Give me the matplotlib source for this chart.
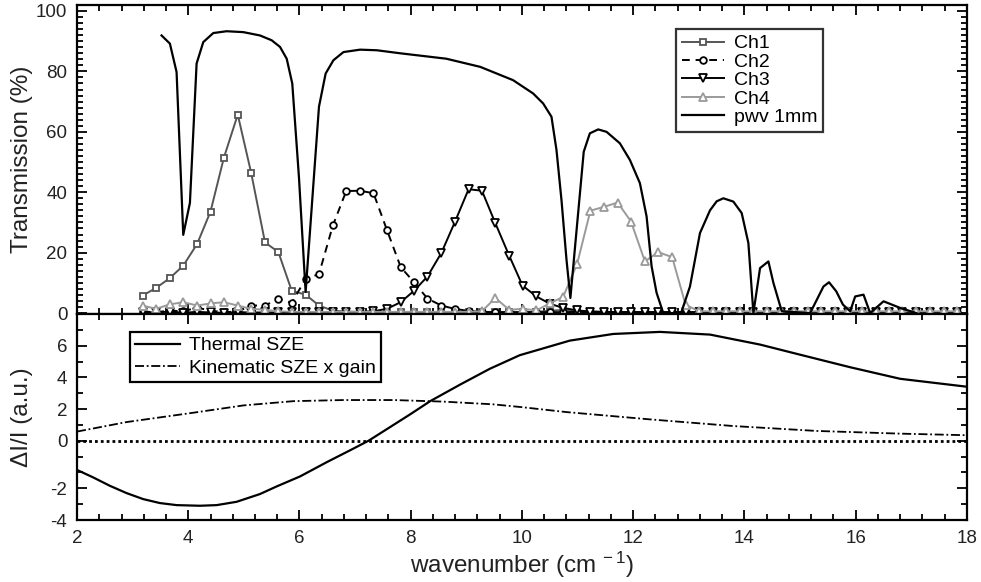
import matplotlib
matplotlib.use('Agg')
import matplotlib.pyplot as plt
from matplotlib.ticker import MultipleLocator, FixedLocator

plt.rcParams['font.family'] = ['Liberation Sans', 'DejaVu Sans']
plt.rcParams['mathtext.default'] = 'regular'

# ---- top panel: channel bands + atmosphere ----
ch_x = [3.18, 3.42, 3.67, 3.91, 4.16, 4.40, 4.64, 4.89, 5.13, 5.38,
        5.62, 5.86, 6.11, 6.35, 6.60, 6.84, 7.08, 7.33, 7.57, 7.82,
        8.06, 8.30, 8.55, 8.79, 9.04, 9.28, 9.52, 9.77, 10.01, 10.26,
        10.50, 10.74, 10.99, 11.23, 11.48, 11.72, 11.96, 12.21, 12.45, 12.70,
        12.94, 13.18, 13.43, 13.67, 13.92, 14.16, 14.40, 14.65, 14.89, 15.14,
        15.38, 15.62, 15.87, 16.11, 16.36, 16.60, 16.84, 17.09, 17.33, 17.58,
        17.82]

ch1 = [5.8, 8.3, 11.6, 15.7, 22.9, 33.6, 51.4, 65.7, 46.5, 23.4,
       20.2, 7.4, 6.1, 2.5, 0.8, 0.5, 0.4, 0.3, 0.3, 0.4,
       0.3, 0.3, 0.4, 0.3, 0.3, 0.3, 0.4, 0.3, 0.3, 0.4,
       0.8, 1.0, 0.8, 0.5, 0.4, 0.3, 0.3, 0.3, 0.3, 0.3,
       0.3, 0.3, 0.3, 0.3, 0.3, 0.3, 0.3, 0.3, 0.3, 0.3,
       0.3, 0.3, 0.3, 0.3, 0.3, 0.3, 0.3, 0.3, 0.3, 0.3,
       0.3]
ch2 = [0.5, 0.3, 0.8, 0.6, 1.8, 0.8, 0.3, 0.5, 2.5, 2.5,
       4.7, 3.4, 11.3, 12.9, 29.0, 40.4, 40.5, 39.7, 27.6, 15.2,
       10.2, 4.8, 2.5, 1.4, 0.7, 0.4, 0.3, 0.3, 0.3, 0.3,
       0.3, 0.3, 0.4, 0.3, 0.3, 0.3, 0.3, 0.3, 0.3, 0.3,
       0.3, 0.3, 0.3, 0.3, 0.3, 0.3, 0.3, 0.3, 0.3, 0.3,
       0.3, 0.3, 0.3, 0.3, 0.3, 0.3, 0.3, 0.3, 0.3, 0.3,
       0.3]
ch3 = [0.3, 0.2, 0.5, 0.1, 0.4, 0.2, 0.1, 0.3, 0.2, 0.2,
       0.2, 0.2, 0.3, 0.3, 0.3, 0.3, 0.4, 0.6, 1.4, 3.6,
       7.4, 12.1, 19.9, 30.0, 41.0, 40.5, 29.8, 19.0, 9.1, 5.5,
       3.1, 1.7, 0.9, 0.5, 0.4, 0.3, 0.3, 0.2, 0.2, 0.2,
       0.2, 0.2, 0.2, 0.2, 0.2, 0.2, 0.2, 0.2, 0.2, 0.2,
       0.2, 0.2, 0.2, 0.2, 0.2, 0.2, 0.2, 0.2, 0.2, 0.2,
       0.2]
ch4 = [2.5, 1.4, 2.9, 3.6, 2.5, 3.2, 3.6, 2.5, 1.4, 1.1,
       0.6, 0.4, 0.4, 0.4, 0.4, 0.4, 0.4, 0.4, 0.4, 0.4,
       0.4, 0.4, 0.4, 0.4, 0.4, 0.6, 5.0, 1.1, 1.4, 0.9,
       3.2, 5.4, 16.2, 33.9, 35.2, 36.6, 30.3, 17.1, 20.2, 18.5,
       2.8, 0.6, 0.6, 0.6, 0.6, 0.6, 0.6, 0.6, 0.6, 0.6,
       0.6, 0.6, 0.6, 0.6, 0.6, 0.6, 0.6, 0.6, 0.6, 0.6,
       0.6]

pwv_x = [3.52, 3.67, 3.79, 3.91, 4.03, 4.15, 4.27, 4.45, 4.69, 4.99,
         5.29, 5.50, 5.65, 5.77, 5.87, 5.99, 6.11, 6.35, 6.47, 6.61,
         6.79, 7.09, 7.39, 7.81, 8.64, 9.25, 9.84, 10.20, 10.38, 10.53,
         10.62, 10.71, 10.80, 10.87, 11.11, 11.22, 11.37, 11.52, 11.76, 11.94,
         12.12, 12.24, 12.33, 12.42, 12.54, 12.86, 13.02, 13.20, 13.38, 13.50,
         13.62, 13.80, 13.95, 14.07, 14.16, 14.28, 14.43, 14.52, 14.67, 15.18,
         15.42, 15.52, 15.65, 15.77, 15.90, 15.99, 16.14, 16.26, 16.50, 16.80,
         17.09]
pwv_t = [91.9, 89.2, 79.8, 25.9, 36.5, 82.6, 89.7, 92.7, 93.3, 93.0,
         91.9, 90.3, 88.1, 84.2, 76.0, 45.0, 7.0, 68.3, 79.3, 83.7,
         86.4, 87.2, 87.0, 86.0, 84.2, 81.5, 77.1, 72.7, 69.4, 65.0,
         54.0, 37.4, 17.7, 5.0, 53.4, 59.5, 60.8, 60.0, 56.2, 50.7,
         43.0, 32.0, 15.5, 6.7, 0.0, 0.0, 8.8, 26.5, 34.0, 37.0,
         38.0, 36.9, 33.1, 23.2, 0.0, 14.9, 17.1, 10.0, 0.6, 0.0,
         8.8, 10.2, 7.2, 2.8, 0.6, 5.5, 6.1, 0.0, 3.9, 1.7,
         0.0]

# ---- bottom panel: SZ spectra ----
tsz_x = [2.0, 2.29, 2.59, 2.89, 3.19, 3.49, 3.79, 4.21, 4.51, 4.87,
         5.29, 5.59, 6.01, 6.49, 6.91, 7.24, 7.60, 7.99, 8.35, 8.89,
         9.42, 9.96, 10.86, 11.64, 12.48, 13.38, 14.28, 14.99, 15.90, 16.80,
         18.0]
tsz_y = [-1.84, -2.31, -2.84, -3.30, -3.68, -3.93, -4.06, -4.10, -4.06, -3.85,
         -3.36, -2.88, -2.25, -1.35, -0.60, 0.0, 0.80, 1.67, 2.5, 3.55,
         4.54, 5.40, 6.32, 6.74, 6.87, 6.70, 6.07, 5.44, 4.64, 3.91,
         3.41]
ksz_x = [2.0, 2.89, 4.09, 4.99, 5.89, 6.79, 7.69, 8.59, 9.48, 10.0,
         10.8, 12.3, 13.8, 15.3, 16.8, 18.0]
ksz_y = [0.58, 1.18, 1.77, 2.23, 2.50, 2.57, 2.57, 2.47, 2.30, 2.12,
         1.81, 1.35, 0.93, 0.62, 0.45, 0.35]

ly_pos = [-5, -3, 0, 2, 4, 6]
ly_lab = ['-4', '-2', '0', '2', '4', '6']

fig = plt.figure(figsize=(9.81, 5.82), dpi=100, facecolor='w')
ax1 = fig.add_axes([0.0785, 0.4605, 0.9072, 0.531])
ax2 = fig.add_axes([0.0785, 0.1065, 0.9072, 0.354], sharex=ax1)

lw = 1.4
ms = 4.8
ax1.plot(ch_x, ch1, '-', color='#555555', lw=lw, marker='s', ms=ms,
         mfc='white', mec='#555555', mew=1.3, label='Ch1')
ax1.plot(ch_x, ch2, color='black', lw=lw, ls=(0, (4, 3)), marker='o', ms=ms,
         mfc='white', mec='black', mew=1.3, label='Ch2')
ax1.plot(ch_x, ch3, '-', color='black', lw=lw, marker='v', ms=ms + 0.6,
         mfc='white', mec='black', mew=1.3, label='Ch3')
ax1.plot(ch_x, ch4, '-', color='#9a9a9a', lw=lw, marker='^', ms=ms + 0.6,
         mfc='white', mec='#9a9a9a', mew=1.3, label='Ch4')
ax1.plot(pwv_x, pwv_t, '-', color='black', lw=1.6, label='pwv 1mm')

ax1.set_xlim(2, 18)
ax1.set_ylim(-0.3, 102)
ax1.set_ylabel('Transmission (%)', fontsize=17.5, color='#222222')
ax1.yaxis.set_major_locator(MultipleLocator(20))
ax1.yaxis.set_minor_locator(MultipleLocator(2))
ax1.xaxis.set_major_locator(MultipleLocator(2))
ax1.xaxis.set_minor_locator(MultipleLocator(0.4))
ax1.tick_params(labelbottom=False)

leg1 = ax1.legend(loc='upper left', bbox_to_anchor=(0.673, 0.922),
                  borderaxespad=0, fontsize=14, fancybox=False,
                  edgecolor='#333333', framealpha=1, handlelength=2.16,
                  handletextpad=0.5, labelspacing=0.04, borderpad=0.3)
leg1.get_frame().set_linewidth(1.6)

ax2.plot(tsz_x, tsz_y, '-', color='black', lw=1.6, label='Thermal SZE')
ax2.plot(ksz_x, ksz_y, color='black', lw=1.3, ls=(0, (5, 1.5, 1, 1.5)),
         label='Kinematic SZE x gain')
ax2.axhline(0, color='black', lw=2.0, ls=(0, (1, 1.1)))
ax2.set_ylim(-5, 8)
ax2.yaxis.set_major_locator(FixedLocator(ly_pos))
ax2.set_yticklabels(ly_lab)
ax2.yaxis.set_minor_locator(MultipleLocator(1))
ax2.set_ylabel('ΔI/I (a.u.)', fontsize=17.5, color='#222222')
ax2.set_xlabel('wavenumber (cm$^{\\,-1}$)', fontsize=17.5, color='#222222',
               labelpad=2)

leg2 = ax2.legend(loc='upper left', bbox_to_anchor=(0.060, 0.914),
                  borderaxespad=0, fontsize=14, fancybox=False,
                  edgecolor='black', framealpha=1, handlelength=2.27,
                  handletextpad=0.5, labelspacing=0.26, borderpad=0.26)
leg2.get_frame().set_linewidth(1.6)

for ax in (ax1, ax2):
    for s in ax.spines.values():
        s.set_linewidth(1.6)
    ax.tick_params(which='both', direction='in', top=True, right=True,
                   width=1.3, labelsize=13.5, labelcolor='#222222')
    ax.tick_params(which='major', length=7)
    ax.tick_params(which='minor', length=4)
    ax.tick_params(axis='y', pad=7)
    ax.tick_params(axis='x', pad=7)
    ax.yaxis.set_label_coords(-0.049, 0.5)

fig.savefig('out.png', dpi=100)
